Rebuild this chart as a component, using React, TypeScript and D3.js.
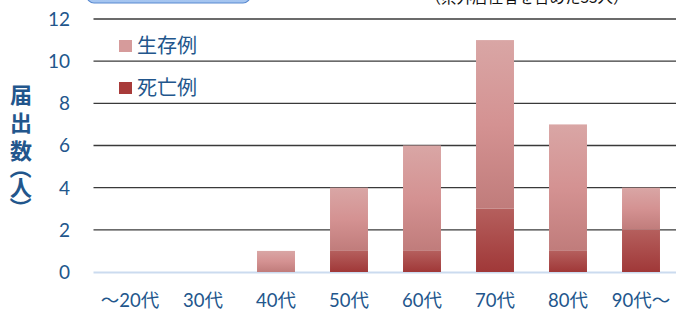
import React from 'react'
import * as d3 from 'd3'

const categories = ['～20代', '30代', '40代', '50代', '60代', '70代', '80代', '90代～']
const deaths = [0, 0, 0, 1, 1, 3, 1, 2]
const survivors = [0, 0, 1, 3, 5, 8, 6, 2]
const yTicks = [0, 2, 4, 6, 8, 10, 12]
const seriesNames = ['生存例', '死亡例']

const textColor = '#22568c'
const font = 'Lato, "Noto Sans CJK JP", sans-serif'

export default function App() {
  const width = 676, height = 311
  const margin = { top: 19, bottom: 39, left: 93.5 }
  const h = height - margin.bottom

  const x = d3.scaleBand<string>().domain(categories).range([margin.left, 677.5]).paddingInner(0.48).paddingOuter(0.24)
  const y = d3.scaleLinear().domain([0, 12]).range([h, margin.top])

  const rows = categories.map((c, i) => ({ cat: c, death: deaths[i], surv: survivors[i] }))
  const stacked = d3.stack<any>().keys(['death', 'surv'])(rows)

  return (
    <svg width={width} height={height} style={{ position: 'absolute', left: 0, top: 0, fontFamily: font }}>
      <defs>
        <linearGradient id="gSurv" x1="0" y1="0" x2="0" y2="1">
          <stop offset="0" stopColor="#d9a6a5" />
          <stop offset="0.5" stopColor="#d49292" />
          <stop offset="1" stopColor="#c07c7b" />
        </linearGradient>
        <linearGradient id="gDeath" x1="0" y1="0" x2="0" y2="1">
          <stop offset="0" stopColor="#b55f5d" />
          <stop offset="1" stopColor="#a03838" />
        </linearGradient>
        <linearGradient id="gBox" x1="0" y1="0" x2="0" y2="1">
          <stop offset="0" stopColor="#c4dbf7" />
          <stop offset="1" stopColor="#a3c4f0" />
        </linearGradient>
      </defs>

      <rect x={87} y={-30} width={163} height={33} rx={7} fill="url(#gBox)" stroke="#5a8ad0" strokeWidth={1.2} />
      <text x={527} y={3} textAnchor="middle" fontSize={15.5} fill="#111" fontFamily='"Noto Sans CJK JP"'>（県外居住者を含めた33人）</text>

      {yTicks.filter(t => t > 0).map(t => (
        <line key={t} x1={margin.left} x2={width} y1={y(t)} y2={y(t)} stroke="#3a3a3a" strokeWidth={1.4} />
      ))}
      <line x1={margin.left} x2={width} y1={y(0) + 0.5} y2={y(0) + 0.5} stroke="#cbdbef" strokeWidth={2} />

      {yTicks.map(t => (
        <text key={t} x={70} y={y(t)} dy="0.36em" textAnchor="end" fontSize={19} fill={textColor}>{t}</text>
      ))}

      {stacked.map((s, si) => (
        <g key={s.key} fill={si === 0 ? 'url(#gDeath)' : 'url(#gSurv)'}>
          {s.filter(d => d[1] - d[0] > 0).map(d => (
            <rect key={d.data.cat} x={x(d.data.cat)} width={x.bandwidth()} y={y(d[1])} height={y(d[0]) - y(d[1])} />
          ))}
        </g>
      ))}

      {categories.map(c => (
        <text key={c} x={(x(c) as number) + x.bandwidth() / 2} y={300} dy="0.36em" textAnchor="middle" fontSize={18.5} fill={textColor}>{c}</text>
      ))}

      {seriesNames.map((n, i) => (
        <g key={n} transform={`translate(119,${40 + i * 42})`}>
          <rect width={13} height={12} fill={i === 0 ? '#d69b9b' : '#a83b3a'} />
          <text x={18} y={6} dy="0.36em" fontSize={20} fill={textColor} fontFamily='"Noto Sans CJK JP"'>{n}</text>
        </g>
      ))}

      <g fontSize={22} fontWeight="bold" fill="#22568c" fontFamily='"Noto Sans CJK JP"' textAnchor="middle">
        {'届出数'.split('').map((ch, i) => (
          <text key={i} x={21} y={95 + i * 28} dy="0.36em">{ch}</text>
        ))}
        <text x={21} y={0} transform="translate(21,168) rotate(90) translate(-21,0)" dy="0.36em">（</text>
        <text x={21} y={188} dy="0.36em">人</text>
        <text x={21} y={0} transform="translate(21,208) rotate(90) translate(-21,0)" dy="0.36em">）</text>
      </g>
    </svg>
  )
}
